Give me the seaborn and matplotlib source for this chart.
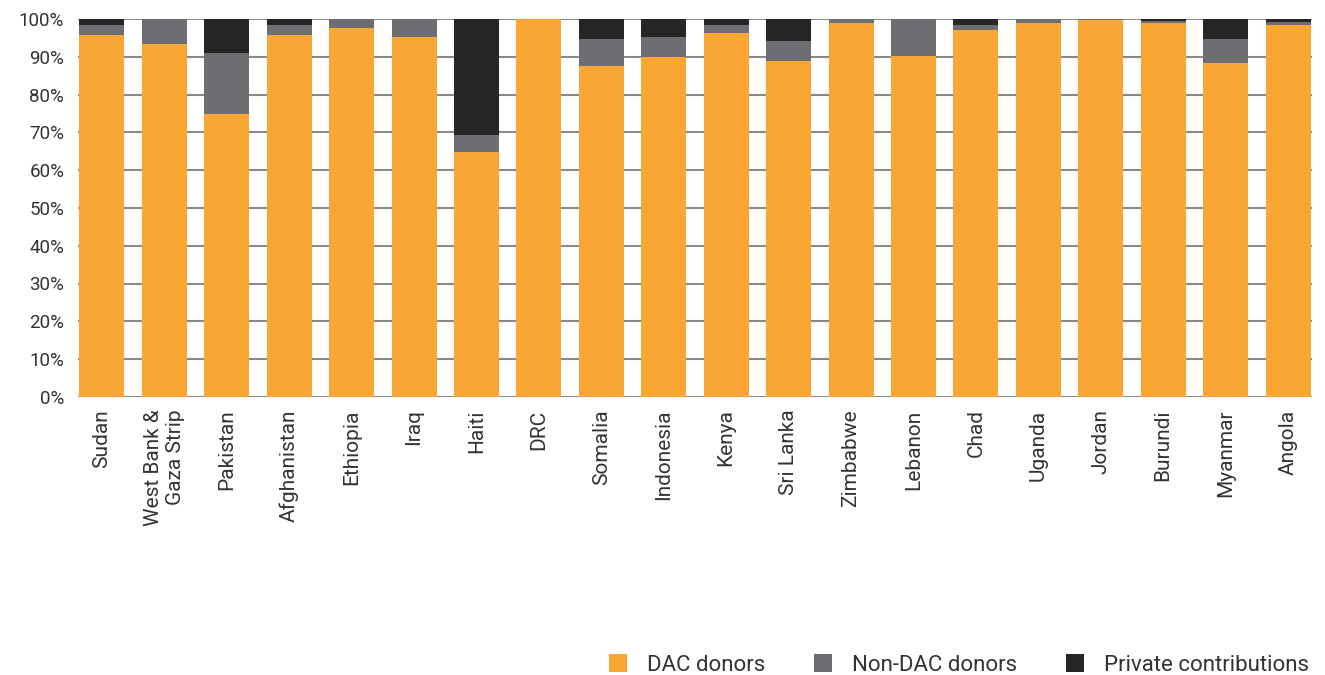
import numpy as np
import pandas as pd
import seaborn as sns
import matplotlib.pyplot as plt
from matplotlib.patches import Patch

# Data (share of humanitarian funding, %)
countries = ['Sudan', 'West Bank &\nGaza Strip', 'Pakistan', 'Afghanistan', 'Ethiopia',
             'Iraq', 'Haiti', 'DRC', 'Somalia', 'Indonesia', 'Kenya', 'Sri Lanka',
             'Zimbabwe', 'Lebanon', 'Chad', 'Uganda', 'Jordan', 'Burundi', 'Myanmar', 'Angola']
dac = [95.8, 93.4, 74.9, 95.8, 97.7, 95.2, 64.8, 100.0, 87.6, 89.9,
       96.3, 88.9, 98.9, 90.3, 97.1, 98.9, 99.7, 98.9, 88.4, 98.4]
non_dac = [2.6, 6.6, 16.0, 2.6, 2.3, 4.8, 4.5, 0.0, 7.1, 5.3,
           2.1, 5.3, 1.1, 9.7, 1.3, 1.1, 0.3, 0.6, 6.3, 0.8]
private = [1.6, 0.0, 9.1, 1.6, 0.0, 0.0, 30.7, 0.0, 5.3, 4.8,
           1.6, 5.8, 0.0, 0.0, 1.6, 0.0, 0.0, 0.5, 5.3, 0.8]

series_names = ['DAC donors', 'Non-DAC donors', 'Private contributions']
colors = ['#F9A635', '#6D6E71', '#262626']

df = pd.DataFrame({'country': countries, 'dac': dac, 'non_dac': non_dac, 'private': private})
df['top_grey'] = df['dac'] + df['non_dac']
df['top_black'] = df['top_grey'] + df['private']

sns.set_theme(style='white')
plt.rcParams['font.family'] = ['Roboto', 'DejaVu Sans']
text_color = '#333333'

fig = plt.figure(figsize=(13.25, 6.75), dpi=100)
ax = fig.add_axes([0.059, 0.412, 0.931, 0.560])

# gridlines behind bars
for v in range(0, 101, 10):
    ax.axhline(v, color='#8a8a8a', lw=1.5, zorder=0)

# stacked bars drawn as overlapping cumulative layers
for col, c in zip(['top_black', 'top_grey', 'dac'], colors[::-1]):
    sns.barplot(data=df, x='country', y=col, color=c, width=0.72,
                saturation=1, linewidth=0, ax=ax, zorder=2)

ax.set_ylim(0, 100)
ax.set_xlim(-0.38, len(countries) - 0.62)
ax.set_yticks(range(0, 101, 10))
ax.set_yticklabels([f'{v}%' for v in range(0, 101, 10)], fontsize=13.5, color=text_color)
ax.set_xlabel('')
ax.set_ylabel('')
ax.set_xticks(range(len(countries)))
ax.set_xticklabels(countries, rotation=90, fontsize=15, color=text_color,
                   ha='center', va='top', multialignment='right')
ax.tick_params(axis='both', length=0, pad=9)
ax.tick_params(axis='y', pad=10)
for s in ax.spines.values():
    s.set_visible(False)

handles = [Patch(facecolor=c, edgecolor='none') for c in colors]
fig.legend(handles, series_names, loc='lower right', ncol=3, frameon=False,
           fontsize=16, bbox_to_anchor=(1.003, -0.031), handlelength=0.8,
           handleheight=0.9, columnspacing=2.2, handletextpad=0.9,
           labelcolor=text_color)

fig.savefig('out.png', dpi=100)
